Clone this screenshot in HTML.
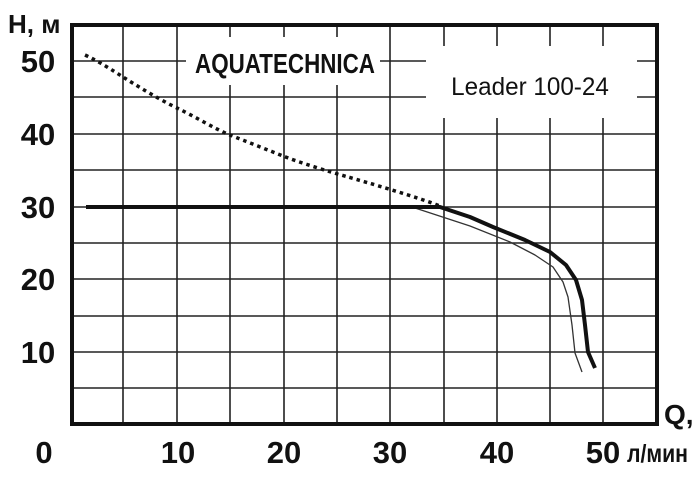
<!DOCTYPE html>
<html><head><meta charset="utf-8"><style>
html,body{margin:0;padding:0;background:#fff}
svg text{font-family:"Liberation Sans",sans-serif;font-weight:bold;fill:#111}
</style></head><body>
<svg width="700" height="480" viewBox="0 0 700 480" xmlns="http://www.w3.org/2000/svg">
<g stroke="#222" stroke-width="1.6">
<line x1="123" y1="25" x2="123" y2="424"/><line x1="177" y1="25" x2="177" y2="424"/>
<line x1="230" y1="25" x2="230" y2="424"/><line x1="284" y1="25" x2="284" y2="424"/>
<line x1="337" y1="25" x2="337" y2="424"/><line x1="390" y1="25" x2="390" y2="424"/>
<line x1="444" y1="25" x2="444" y2="424"/><line x1="497" y1="25" x2="497" y2="424"/>
<line x1="550" y1="25" x2="550" y2="424"/><line x1="603" y1="25" x2="603" y2="424"/>
<line x1="72" y1="61" x2="657" y2="61"/><line x1="72" y1="97" x2="657" y2="97"/>
<line x1="72" y1="134" x2="657" y2="134"/><line x1="72" y1="170" x2="657" y2="170"/>
<line x1="72" y1="207" x2="657" y2="207"/><line x1="72" y1="243" x2="657" y2="243"/>
<line x1="72" y1="279" x2="657" y2="279"/><line x1="72" y1="316" x2="657" y2="316"/>
<line x1="72" y1="352" x2="657" y2="352"/><line x1="72" y1="388" x2="657" y2="388"/>
</g>
<rect x="186" y="37" width="194" height="48" fill="#fff"/>
<rect x="426" y="46" width="211" height="72" fill="#fff"/>
<rect x="72" y="25" width="585" height="399" fill="none" stroke="#111" stroke-width="4"/>
<text x="285" y="73" font-size="28" text-anchor="middle" transform="translate(285,0) scale(0.8,1) translate(-285,0)">AQUATECHNICA</text>
<text x="530" y="95" font-size="25" text-anchor="middle" style="font-weight:normal" transform="translate(530,0) scale(0.97,1) translate(-530,0)">Leader 100-24</text>
<path d="M85,55 C100,62 112,70 123,77 S160,100 177,108 S215,129 230,135 S268,150 283,156 S330,172 348,177 S420,198 440,206" fill="none" stroke="#111" stroke-width="3.5" stroke-dasharray="3.5,4"/>
<polyline points="412,207 470,226 510,242 535,255 553,267 563,282 568,297 572,325 575,353 582,372" fill="none" stroke="#333" stroke-width="1.3" stroke-linejoin="round"/>
<polyline points="86,207 440,207 470,217 493,227 525,240 550,252 566,265 576,280 582,300 585,325 588,352 595,368" fill="none" stroke="#111" stroke-width="4" stroke-linejoin="round"/>
<g font-size="31" text-anchor="middle">
<text x="38" y="72">50</text><text x="38" y="145">40</text><text x="38" y="218">30</text>
<text x="38" y="290">20</text><text x="38" y="363">10</text>
<text x="44" y="463">0</text><text x="178" y="463">10</text><text x="284" y="463">20</text>
<text x="390" y="463">30</text><text x="497" y="463">40</text><text x="603" y="463">50</text>
</g>
<text x="8" y="33" font-size="26">H, м</text>
<text x="664" y="424" font-size="28">Q,</text>
<text x="627" y="462" font-size="25" transform="translate(627,0) scale(0.85,1) translate(-627,0)">л/мин</text>
</svg>
</body></html>
